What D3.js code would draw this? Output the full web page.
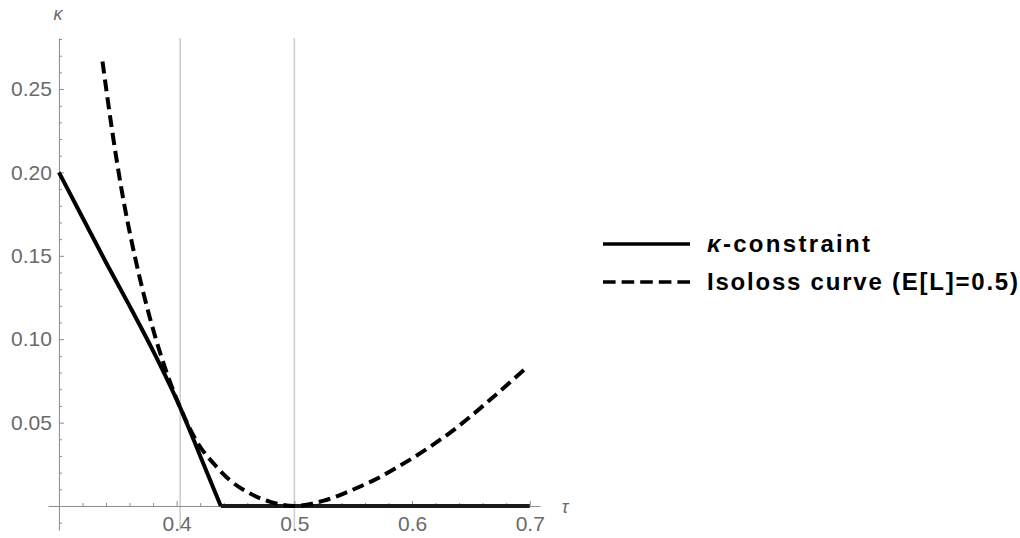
<!DOCTYPE html>
<html>
<head>
<meta charset="utf-8">
<script src="https://cdn.jsdelivr.net/npm/d3@7"></script>
<style>
  html, body { margin: 0; padding: 0; background: #fff; }
  svg { display: block; }
  .tick text { font-family: "Liberation Sans", Arial, sans-serif; font-size: 21px; fill: #6a6a6a; }
</style>
</head>
<body>
<svg id="chart" width="1020" height="538"></svg>
<script>
// κ-constraint curve (solid)
const constraintTau   = [0.300, 0.320, 0.340, 0.360, 0.380, 0.403, 0.420, 0.4375, 0.700];
const constraintKappa = [0.200, 0.173, 0.146, 0.120, 0.093, 0.059, 0.030, 0.000, 0.000];

// Isoloss curve for E[L] = 0.5 (dashed)
const isolossTau   = [0.337, 0.345, 0.353, 0.365, 0.377, 0.387, 0.403, 0.418, 0.432, 0.445, 0.462, 0.479, 0.500,
                      0.525, 0.547, 0.570, 0.587, 0.610, 0.638, 0.666, 0.698];
const isolossKappa = [0.2665, 0.226, 0.1905, 0.148, 0.1135, 0.0895, 0.059, 0.0376, 0.025, 0.0156, 0.0076, 0.0026, 0.000,
                      0.0032, 0.0090, 0.0163, 0.0230, 0.0330, 0.0470, 0.0635, 0.0834];

// Axis ticks and reference lines
const tauTicks   = [0.4, 0.5, 0.6, 0.7];
const kappaTicks = [0.05, 0.10, 0.15, 0.20, 0.25];
const gridTau    = [0.403, 0.5];
const legendLabels = ["κ-constraint", "Isoloss curve (E[L]=0.5)"];

const svg = d3.select("#chart");

const x = d3.scaleLinear().domain([0.2907, 0.7087]).range([48, 540]);
const y = d3.scaleLinear().domain([-0.0144, 0.2806]).range([530, 38]);

// vertical grid lines
svg.append("g").selectAll("line").data(gridTau).join("line")
  .attr("x1", d => x(d)).attr("x2", d => x(d))
  .attr("y1", y.range()[1]).attr("y2", y.range()[0])
  .attr("stroke", "#cfcfcf").attr("stroke-width", 1.6);

const axisColor = "#8c8c8c";
const minorTau = d3.range(0.32, 0.70, 0.02).filter(v => !tauTicks.some(t => Math.abs(t - v) < 1e-6));
const minorKappa = d3.range(-0.01, 0.2801, 0.01).filter(v => Math.abs(v) > 1e-6 && !kappaTicks.some(t => Math.abs(t - v) < 1e-6));

const x0 = x(0.3), y0 = y(0);

// x axis (ticks point up into the plot)
const gx = svg.append("g").attr("transform", `translate(0,${y0})`);
gx.call(d3.axisBottom(x).tickValues(tauTicks).tickFormat(d3.format(".1f"))
  .tickSizeInner(-5).tickSizeOuter(0).tickPadding(10));
gx.append("g").call(d3.axisBottom(x).tickValues(minorTau).tickFormat("")
  .tickSizeInner(-3).tickSizeOuter(0)).select(".domain").remove();

// y axis (ticks point right into the plot)
const gy = svg.append("g").attr("transform", `translate(${x0},0)`);
gy.call(d3.axisLeft(y).tickValues(kappaTicks).tickFormat(d3.format(".2f"))
  .tickSizeInner(-5).tickSizeOuter(0).tickPadding(7));
gy.append("g").call(d3.axisLeft(y).tickValues(minorKappa).tickFormat("")
  .tickSizeInner(-3).tickSizeOuter(0)).select(".domain").remove();

svg.selectAll(".domain, .tick line").attr("stroke", axisColor).attr("stroke-width", 1);

// axis names
svg.append("text").attr("x", 58).attr("y", 20).attr("text-anchor", "middle")
  .attr("font-family", "Liberation Sans, Arial, sans-serif").attr("font-style", "italic")
  .attr("font-size", 18).attr("fill", "#6a6a6a").text("κ");
svg.append("text").attr("x", 565).attr("y", 513).attr("text-anchor", "middle")
  .attr("font-family", "Liberation Sans, Arial, sans-serif").attr("font-style", "italic")
  .attr("font-size", 18).attr("fill", "#6a6a6a").text("τ");

// curves
const constraint = constraintTau.map((t, i) => [t, constraintKappa[i]]);
const isoloss = isolossTau.map((t, i) => [t, isolossKappa[i]]);
const kink = constraint.findIndex(d => d[1] === 0);

const smooth = d3.line().x(d => x(d[0])).y(d => y(d[1])).curve(d3.curveMonotoneX);
const straight = d3.line().x(d => x(d[0])).y(d => y(d[1]));

svg.append("path").attr("d", smooth(constraint.slice(0, kink + 1)))
  .attr("fill", "none").attr("stroke", "#000").attr("stroke-width", 4).attr("stroke-linejoin", "round");
svg.append("path").attr("d", straight(constraint.slice(kink)))
  .attr("fill", "none").attr("stroke", "#1a1a1a").attr("stroke-width", 4);

svg.append("path").attr("d", smooth(isoloss))
  .attr("fill", "none").attr("stroke", "#000").attr("stroke-width", 4)
  .attr("stroke-dasharray", "12,6");

// legend
const legend = svg.append("g");
const legendY = [244, 282];
const legendDash = [null, "12.6,6"];
const legendWidth = [163, 311];
legendLabels.forEach((lab, i) => {
  legend.append("line").attr("x1", 603).attr("x2", 690)
    .attr("y1", legendY[i]).attr("y2", legendY[i])
    .attr("stroke", "#000").attr("stroke-width", 3.6)
    .attr("stroke-dasharray", legendDash[i]);
  const t = legend.append("text").attr("x", 707).attr("y", legendY[i] + 8)
    .attr("font-family", "Liberation Sans, Arial, sans-serif").attr("font-weight", "bold")
    .attr("font-size", 24).attr("fill", "#000")
    .attr("textLength", legendWidth[i]).attr("lengthAdjust", "spacing");
  if (i === 0) {
    t.append("tspan").attr("font-style", "italic").text(lab.slice(0, 1));
    t.append("tspan").text(lab.slice(1));
  } else {
    t.text(lab);
  }
});
</script>
</body>
</html>
